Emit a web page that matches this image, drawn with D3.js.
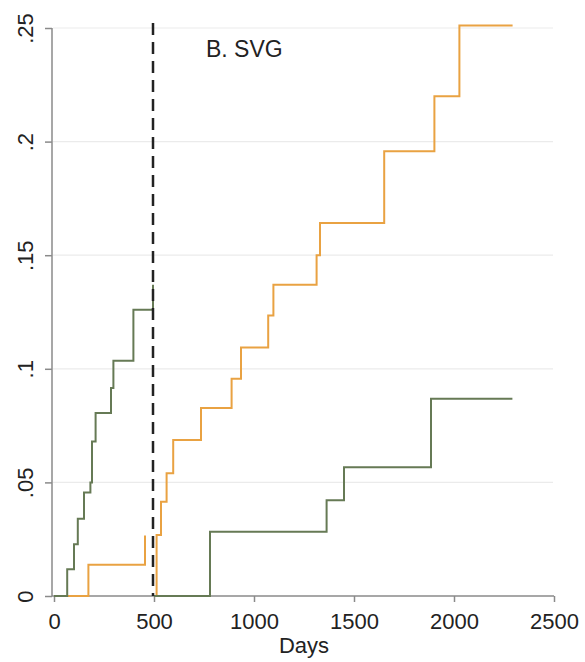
<!DOCTYPE html>
<html>
<head>
<meta charset="utf-8">
<script src="https://cdn.jsdelivr.net/npm/d3@7"></script>
<style>
  body { margin: 0; background: #fff; }
  svg text { font-family: "Liberation Sans", Arial, sans-serif; fill: #222; }
</style>
</head>
<body>
<div id="chart"></div>
<script>
// step points, days since start vs cumulative share
let greenPreDays  = [0, 66, 100, 119, 150, 182, 190, 208, 285, 297, 397, 495];
let greenPreVals  = [0, .0118, .0228, .034, .0455, .050, .068, .0806, .0916, .1035, .126, .137];
let orangePreDays = [0, 172, 455];
let orangePreVals = [0, .0137, .0266];
let orangePostDays = [500, 513, 535, 563, 596, 735, 888, 935, 1071, 1097, 1313, 1330, 1651, 1902, 2027, 2293];
let orangePostVals = [0, .0269, .0415, .054, .0687, .0827, .0956, .1094, .1235, .137, .150, .1642, .1957, .220, .2511, .2511];
let greenPostDays = [500, 780, 1363, 1450, 1885, 2292];
let greenPostVals = [0, .0283, .0421, .0567, .0868, .0868];

let xTicks = [0, 500, 1000, 1500, 2000, 2500];
let yTicks = [0, .05, .1, .15, .2, .25];
let yTickLabels = ["0", ".05", ".1", ".15", ".2", ".25"];
let cutoffDay = 500;
let panelTitle = "B. SVG";
let xTitle = "Days";

const width = 585, height = 662;
const svg = d3.select("#chart").append("svg")
    .attr("width", width)
    .attr("height", height);

const x = d3.scaleLinear().domain([0, 2500]).range([54, 554]);
const y = d3.scaleLinear().domain([0, .25]).range([596, 28]);

// grid
svg.append("g").selectAll("line")
    .data(yTicks.slice(1))
    .enter().append("line")
    .attr("x1", 53).attr("x2", 553)
    .attr("y1", d => y(d)).attr("y2", d => y(d))
    .attr("stroke", "#ebebeb").attr("stroke-width", 1.2);

// y axis
let yAxis = svg.append("g")
    .attr("transform", "translate(52,0)")
    .call(d3.axisLeft(y).tickValues(yTicks).tickSize(7).tickFormat((d, i) => yTickLabels[i]));
yAxis.select(".domain").attr("stroke", "#8a8a8a").attr("stroke-width", 1.5)
    .attr("d", `M0,${y(0)}V${y(.25)}`);
yAxis.selectAll(".tick line").attr("stroke", "#8a8a8a").attr("stroke-width", 1.5);
yAxis.selectAll(".tick text")
    .attr("font-size", 22)
    .attr("text-anchor", "middle")
    .attr("x", 0).attr("dy", 0)
    .attr("transform", "translate(-19,0) rotate(-90)");

// x axis
let xAxis = svg.append("g")
    .attr("transform", `translate(0,${y(0)})`)
    .call(d3.axisBottom(x).tickValues(xTicks).tickSize(6).tickFormat(d3.format("d")));
xAxis.select(".domain").attr("stroke", "#8a8a8a").attr("stroke-width", 1.5)
    .attr("d", `M52,0H${x(2500)}`);
xAxis.selectAll(".tick line").attr("stroke", "#8a8a8a").attr("stroke-width", 1.5);
xAxis.selectAll(".tick text")
    .attr("font-size", 22)
    .attr("y", 33).attr("dy", 0);

svg.append("text")
    .attr("x", x(1250)).attr("y", 653)
    .attr("text-anchor", "middle")
    .attr("font-size", 22)
    .text(xTitle);

const line = d3.line()
    .x(d => x(d[0]))
    .y(d => y(d[1]))
    .curve(d3.curveStepAfter);

function drawSeries(days, vals, color) {
    svg.append("path")
        .datum(days.map((d, i) => [d, vals[i]]))
        .attr("fill", "none")
        .attr("stroke", color)
        .attr("stroke-width", 2)
        .attr("d", line);
}

drawSeries(orangePreDays, orangePreVals, "#e9a242");
drawSeries(orangePostDays, orangePostVals, "#e9a242");
drawSeries(greenPreDays, greenPreVals, "#667a55");
drawSeries(greenPostDays, greenPostVals, "#667a55");

// cutoff
svg.append("line")
    .attr("x1", x(cutoffDay) - 1).attr("x2", x(cutoffDay) - 1)
    .attr("y1", 23).attr("y2", y(0))
    .attr("stroke", "#222")
    .attr("stroke-width", 2.5)
    .attr("stroke-dasharray", "12,7");

svg.append("text")
    .attr("x", 206).attr("y", 57)
    .attr("font-size", 23)
    .text(panelTitle);
</script>
</body>
</html>
